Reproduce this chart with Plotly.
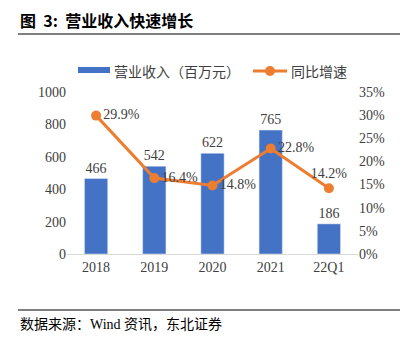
import plotly.graph_objects as go

categories = ["2018", "2019", "2020", "2021", "22Q1"]
revenue = [466, 542, 622, 765, 186]
growth = [29.9, 16.4, 14.8, 22.8, 14.2]
growth_pos = ["middle right", "middle right", "middle right", "middle right", "top center"]
y_ticks = [0, 200, 400, 600, 800, 1000]
y2_ticks = [0, 5, 10, 15, 20, 25, 30, 35]
bar_name = "营业收入（百万元）"
line_name = "同比增速"

W, H = 407, 345
L, R, T, B = 67, 49, 92, 91
pw = W - L - R
ph = H - T - B

def px(x):
    return (x - L) / pw

def py(y):
    return 1 - (y - T) / ph

serif = "Liberation Serif, Noto Sans CJK SC"
BLUE = "#4472C4"
ORANGE = "#ED7D31"

fig = go.Figure()
fig.add_trace(go.Bar(
    x=categories, y=revenue, name=bar_name,
    marker=dict(color=BLUE), width=0.4,
    text=[str(v) for v in revenue], textposition="outside",
    textfont=dict(family=serif, size=14, color="#404040"),
    cliponaxis=False, showlegend=False,
))
fig.add_trace(go.Scatter(
    x=categories, y=growth, name=line_name, yaxis="y2",
    mode="lines+markers+text",
    line=dict(color=ORANGE, width=3),
    marker=dict(color=ORANGE, size=10),
    text=[f"{v:.1f}%" for v in growth], textposition=growth_pos,
    textfont=dict(family=serif, size=14, color="#404040"),
    cliponaxis=False, showlegend=False,
))

fig.update_layout(
    width=W, height=H,
    margin=dict(l=L, r=R, t=T, b=B),
    paper_bgcolor="white", plot_bgcolor="white",
    font=dict(family=serif, size=14, color="#404040"),
    showlegend=False,
    xaxis=dict(showgrid=False, showline=True, linecolor="#d9d9d9", linewidth=1,
               ticks="", tickfont=dict(family=serif, size=14, color="#404040")),
    yaxis=dict(range=[0, 1000], tickvals=y_ticks, showgrid=False, zeroline=False,
               showline=False, ticks="", tickfont=dict(family=serif, size=14, color="#404040")),
    yaxis2=dict(range=[0, 35], tickvals=y2_ticks, ticktext=[f"{v}%" for v in y2_ticks],
                overlaying="y", side="right", showgrid=False, zeroline=False,
                showline=False, ticks="", tickfont=dict(family=serif, size=14, color="#404040")),
)

# manual legend
fig.add_shape(type="rect", xref="paper", yref="paper", x0=px(78), x1=px(110), y0=py(73), y1=py(67),
              fillcolor=BLUE, line=dict(width=0))
fig.add_annotation(xref="paper", yref="paper", x=px(112), y=py(71), xanchor="left", yanchor="middle",
                   text=bar_name, showarrow=False,
                   font=dict(family="Noto Sans CJK SC", size=14, color="#404040"))
fig.add_shape(type="line", xref="paper", yref="paper", x0=px(253), x1=px(287), y0=py(71), y1=py(71),
              line=dict(color=ORANGE, width=3))
fig.add_shape(type="circle", xref="paper", yref="paper", x0=px(265), x1=px(275), y0=py(76), y1=py(66),
              fillcolor=ORANGE, line=dict(width=0))
fig.add_annotation(xref="paper", yref="paper", x=px(289), y=py(71), xanchor="left", yanchor="middle",
                   text=line_name, showarrow=False,
                   font=dict(family="Noto Sans CJK SC", size=14, color="#404040"))

fig.add_annotation(xref="paper", yref="paper", x=px(18), y=py(20), xanchor="left", yanchor="middle",
                   text="<b>图  3:  营业收入快速增长</b>", showarrow=False,
                   font=dict(family="Noto Sans CJK SC", size=16, color="#000000"))
fig.add_shape(type="line", xref="paper", yref="paper", x0=px(18), x1=px(400), y0=py(34), y1=py(34),
              line=dict(color="#808080", width=2))
fig.add_shape(type="line", xref="paper", yref="paper", x0=px(18), x1=px(400), y0=py(310), y1=py(310),
              line=dict(color="#808080", width=2))
fig.add_annotation(xref="paper", yref="paper", x=px(18), y=py(324), xanchor="left", yanchor="middle",
                   text="数据来源：Wind 资讯，东北证券", showarrow=False,
                   font=dict(family="Liberation Serif, Noto Sans CJK SC", size=14, color="#000000"))

fig.write_html("out.html")
